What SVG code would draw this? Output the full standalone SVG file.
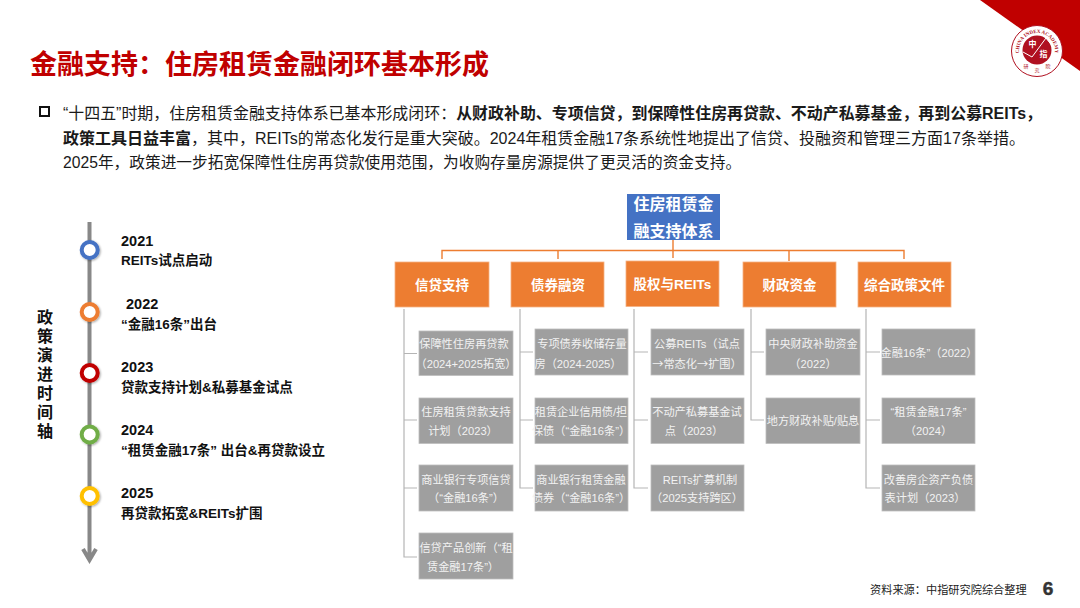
<svg xmlns="http://www.w3.org/2000/svg" width="1080" height="608" viewBox="0 0 1080 608">
<style>
text{font-family:"Liberation Sans","Noto Sans CJK SC",sans-serif}
.b{font-weight:700}
.p{font-size:16px;fill:#1a1a1a}
.o{fill:#ED7D31;stroke:#F4B183;stroke-width:.8}
.ot{font-size:13.5px;font-weight:700;fill:#fff;text-anchor:middle}
.g{fill:#9F9F9F;stroke:#BDBDBD;stroke-width:.8}
.gt{font-size:11.2px;fill:#F2F2F2;text-anchor:middle;text-spacing-trim:space-all}
.y{font-size:14.5px;font-weight:700;fill:#111}
.d{font-size:13.5px;font-weight:700;fill:#111}
.v{font-size:16px;font-weight:700;fill:#111;text-anchor:middle}
.ol{fill:none;stroke:#ED7D31;stroke-width:1.4}
.gl{fill:none;stroke:#B5B5B5;stroke-width:1.2}
.dot{fill:#fff;stroke-width:4;filter:url(#sh)}
</style>
<defs>
<filter id="sh" x="-30%" y="-30%" width="170%" height="170%"><feDropShadow dx="1" dy="1" stdDeviation="1" flood-color="#000" flood-opacity=".35"/></filter>
<path id="arc" d="M1021 59.200A18 18 0 1 1 1053 59.200"/>
</defs>

<g id="logo">
<polygon points="980,0 1080,0 1080,71" fill="#C00000"/>
<circle cx="1037" cy="51" r="25.5" fill="#fff" stroke="#B01020" stroke-width="1"/>
<circle cx="1037" cy="50" r="14.500" fill="#B01020"/>
<polyline points="1023,52 1032,57 1046,38 1053,47" fill="none" stroke="#fff" stroke-width="1"/>
<text x="1032.500" y="47" font-size="8" font-weight="700" fill="#fff" text-anchor="middle">中</text>
<text x="1043.500" y="57" font-size="8" font-weight="700" fill="#fff" text-anchor="middle">指</text>
<text font-size="5" font-weight="700" fill="#B01020" style="font-family:'Liberation Serif',serif"><textPath href="#arc" startOffset="50%" text-anchor="middle">CHINA INDEX ACADEMY</textPath></text>
<text x="1026" y="68" font-size="5" fill="#B01020" text-anchor="middle">研</text>
<text x="1037" y="72" font-size="5" fill="#B01020" text-anchor="middle">究</text>
<text x="1048" y="68" font-size="5" fill="#B01020" text-anchor="middle">院</text>
</g>

<text id="title" x="30" y="74" font-size="27" font-weight="700" fill="#C00000">金融支持：住房租赁金融闭环基本形成</text>

<g id="intro">
<rect x="40" y="107" width="9" height="9" fill="none" stroke="#111" stroke-width="2"/>
<text class="p" x="63" y="119" style="font-size:15.95px">“十四五”时期，住房租赁金融支持体系已基本形成闭环：<tspan class="b">从财政补助、专项信贷，到保障性住房再贷款、不动产私募基金，再到公募REITs，</tspan></text>
<text class="p" x="63" y="144"><tspan class="b">政策工具日益丰富</tspan>，其中，REITs的常态化发行是重大突破。2024年租赁金融17条系统性地提出了信贷、投融资和管理三方面17条举措。</text>
<text class="p" x="63" y="168" style="font-size:15.7px">2025年，政策进一步拓宽保障性住房再贷款使用范围，为收购存量房源提供了更灵活的资金支持。</text>
</g>

<g id="timeline-label">
<text class="v" x="45" y="323">政</text><text class="v" x="45" y="342">策</text><text class="v" x="45" y="361">演</text><text class="v" x="45" y="380">进</text><text class="v" x="45" y="399">时</text><text class="v" x="45" y="418">间</text><text class="v" x="45" y="437">轴</text>
</g>

<g id="connectors">
<path d="M89.5 222V560M83 549L89.5 560L96 549" fill="none" stroke="#888" stroke-width="4"/>
<path class="ol" d="M442 259V250.500H904V259M558 250.500V259M673 240V258M789 250.500V261"/>
<path class="gl" d="M404 309V557H417M404 353.500H417M404 420H417M404 488H417"/>
<path class="gl" d="M520 309V488H533M520 352H533M520 420H533"/>
<path class="gl" d="M634 309V488H648M634 352H648M634 420H648"/>
<path class="gl" d="M751 309V420H764M751 352H764"/>
<path class="gl" d="M866 309V488H880M866 352H880M866 420H880"/>
</g>

<g id="t2021"><circle class="dot" cx="89.7" cy="250" r="8" stroke="#4472C4"/><text class="y" x="121" y="246">2021</text><text class="d" x="121" y="265">REITs试点启动</text></g>
<g id="t2022"><circle class="dot" cx="89.7" cy="312" r="8" stroke="#ED7D31"/><text class="y" x="126" y="309">2022</text><text class="d" x="121" y="329">“金融16条”出台</text></g>
<g id="t2023"><circle class="dot" cx="89.7" cy="373" r="8" stroke="#C00000"/><text class="y" x="121" y="372">2023</text><text class="d" x="121" y="392">贷款支持计划&amp;私募基金试点</text></g>
<g id="t2024"><circle class="dot" cx="89.7" cy="434.500" r="8" stroke="#70AD47"/><text class="y" x="121" y="435">2024</text><text class="d" x="121" y="455">“租赁金融17条” 出台&amp;再贷款设立</text></g>
<g id="t2025"><circle class="dot" cx="89.7" cy="496" r="8" stroke="#FFC000"/><text class="y" x="121" y="498">2025</text><text class="d" x="121" y="518">再贷款拓宽&amp;REITs扩围</text></g>

<g id="root"><rect x="627" y="194" width="93" height="46" fill="#4472C4"/><text x="673.500" y="210" font-size="16" font-weight="700" fill="#fff" text-anchor="middle">住房租赁金</text><text x="673.500" y="237" font-size="16" font-weight="700" fill="#fff" text-anchor="middle">融支持体系</text></g>

<g id="h1"><rect class="o" x="395" y="262" width="94" height="45"/><text class="ot" x="442" y="290">信贷支持</text></g>
<g id="h2"><rect class="o" x="511" y="262" width="93" height="45"/><text class="ot" x="558" y="290">债券融资</text></g>
<g id="h3"><rect class="o" x="626" y="261" width="93" height="45.500"/><text class="ot" x="672.500" y="289">股权与REITs</text></g>
<g id="h4"><rect class="o" x="743" y="262" width="93" height="45"/><text class="ot" x="789.500" y="290">财政资金</text></g>
<g id="h5"><rect class="o" x="858" y="262" width="93" height="45"/><text class="ot" x="904.500" y="290">综合政策文件</text></g>

<g id="c1r1"><rect class="g" x="419" y="331" width="94" height="44.500"/><text class="gt" x="464" y="348">保障性住房再贷款</text><text class="gt" x="466" y="368">（2024+2025拓宽）</text></g>
<g id="c1r2"><rect class="g" x="419" y="398" width="94" height="45.500"/><text class="gt" x="466" y="416">住房租赁贷款支持</text><text class="gt" x="463" y="435">计划（2023）</text></g>
<g id="c1r3"><rect class="g" x="419" y="465" width="94" height="46"/><text class="gt" x="466" y="484">商业银行专项信贷</text><text class="gt" x="466" y="502">（“金融16条”）</text></g>
<g id="c1r4"><rect class="g" x="419" y="533" width="94" height="46"/><text class="gt" x="466" y="552">信贷产品创新（“租</text><text class="gt" x="463" y="571">赁金融17条”）</text></g>

<g id="c2r1"><rect class="g" x="535" y="329" width="93" height="46"/><text class="gt" x="582" y="348">专项债券收储存量</text><text class="gt" x="578" y="368">房（2024-2025）</text></g>
<g id="c2r2"><rect class="g" x="535" y="398" width="93" height="45.500"/><text class="gt" x="581" y="416">租赁企业信用债/担</text><text class="gt" x="581" y="435">保债（“金融16条”）</text></g>
<g id="c2r3"><rect class="g" x="535" y="465" width="93" height="46"/><text class="gt" x="581" y="484">商业银行租赁金融</text><text class="gt" x="581" y="502">债券（“金融16条”）</text></g>

<g id="c3r1"><rect class="g" x="651" y="329" width="93" height="46"/><text class="gt" x="697" y="348">公募REITs（试点</text><text class="gt" x="697" y="368" style="font-family:'Noto Sans CJK SC',sans-serif">→常态化→扩围）</text></g>
<g id="c3r2"><rect class="g" x="651" y="398" width="93" height="45.500"/><text class="gt" x="697" y="416">不动产私募基金试</text><text class="gt" x="694" y="435">点（2023）</text></g>
<g id="c3r3"><rect class="g" x="651" y="465" width="93" height="46"/><text class="gt" x="700" y="484">REITs扩募机制</text><text class="gt" x="697" y="502">（2025支持跨区）</text></g>

<g id="c4r1"><rect class="g" x="766" y="329" width="94" height="46"/><text class="gt" x="813" y="348">中央财政补助资金</text><text class="gt" x="813" y="368">（2022）</text></g>
<g id="c4r2"><rect class="g" x="766" y="398" width="94" height="45.500"/><text class="gt" x="813" y="425">地方财政补贴/贴息</text></g>

<g id="c5r1"><rect class="g" x="882" y="329" width="93" height="46"/><text class="gt" x="929" y="357">金融16条”（2022）</text></g>
<g id="c5r2"><rect class="g" x="882" y="398" width="93" height="45.500"/><text class="gt" x="928.500" y="416">“租赁金融17条”</text><text class="gt" x="928.500" y="435">（2024）</text></g>
<g id="c5r3"><rect class="g" x="882" y="465" width="93" height="46"/><text class="gt" x="928.500" y="484">改善房企资产负债</text><text class="gt" x="925" y="502">表计划（2023）</text></g>

<g id="footer">
<text x="870" y="594" font-size="11.2" fill="#222">资料来源：中指研究院综合整理</text>
<text x="1048" y="595" font-size="19" font-weight="700" fill="#333" stroke="#333" stroke-width=".5" text-anchor="middle">6</text>
</g>
</svg>
